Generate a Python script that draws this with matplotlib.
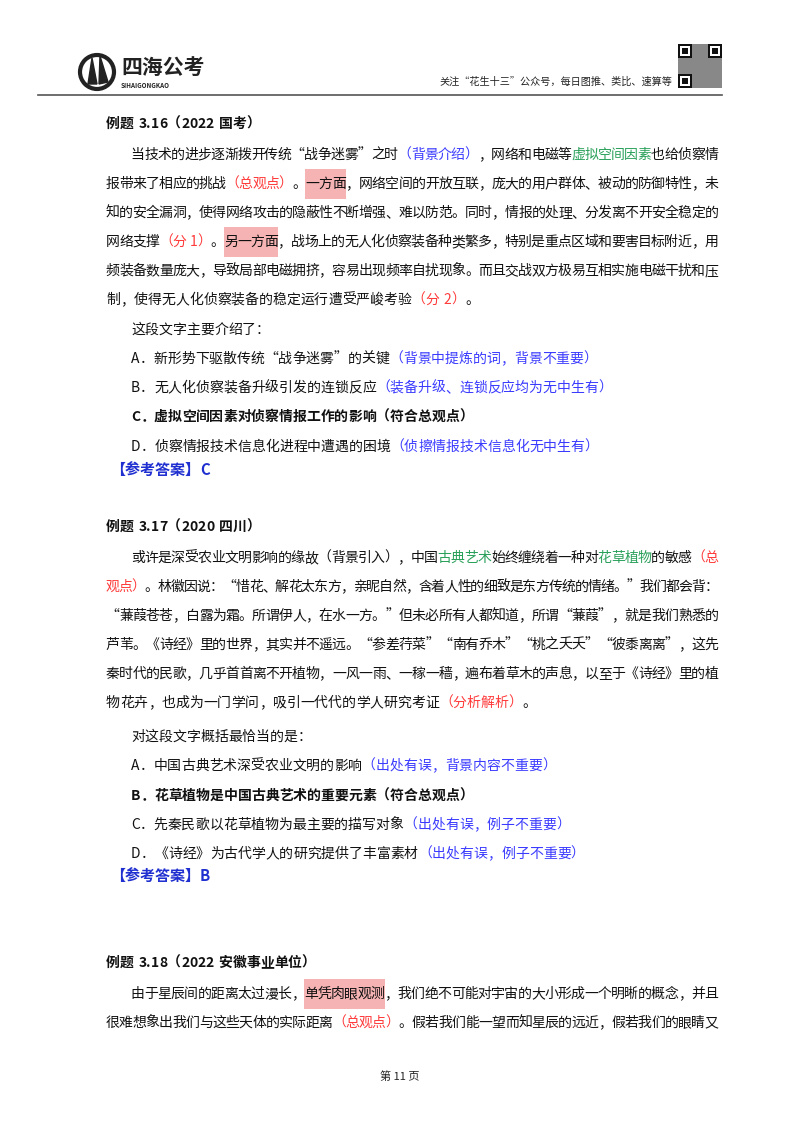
import matplotlib
matplotlib.use("Agg")
import matplotlib.pyplot as plt
from matplotlib.patches import Rectangle

plt.rcParams['font.family'] = ['Noto Sans CJK SC', 'DejaVu Sans']
W, H = 800, 1132
fig = plt.figure(figsize=(8, 11.32), dpi=100)
fig.patch.set_facecolor('white')
ax = fig.add_axes([0, 0, 1, 1])
ax.set_xlim(0, W); ax.set_ylim(H, 0); ax.axis('off')
r = fig.canvas.get_renderer()

K, B, R, G = '#111111', '#3b3bff', '#ff3b3b', '#2aa05a'
HL = '#f6b3b3'
FS = 10.0
RIGHT = 718

# each line: (x, y, justify, [(text, color, bold, highlight)])
lines = [
 (106, 124, 0, [("例题 3.16（2022 国考）", K, True, False)]),
 (131, 155, 1, [("当技术的进步逐渐拨开传统“战争迷雾”之时", K, 0, 0), ("（背景介绍）", B, 0, 0), ("，网络和电磁等", K, 0, 0), ("虚拟空间因素", G, 0, 0), ("也给侦察情", K, 0, 0)]),
 (106, 184, 1, [("报带来了相应的挑战", K, 0, 0), ("（总观点）", R, 0, 0), ("。", K, 0, 0), ("一方面", K, 0, 1), ("，网络空间的开放互联，庞大的用户群体、被动的防御特性，未", K, 0, 0)]),
 (106, 213, 1, [("知的安全漏洞，使得网络攻击的隐蔽性不断增强、难以防范。同时，情报的处理、分发离不开安全稳定的", K, 0, 0)]),
 (106, 242, 1, [("网络支撑", K, 0, 0), ("（分 1）", R, 0, 0), ("。", K, 0, 0), ("另一方面", K, 0, 1), ("，战场上的无人化侦察装备种类繁多，特别是重点区域和要害目标附近，用", K, 0, 0)]),
 (106, 271, 1, [("频装备数量庞大，导致局部电磁拥挤，容易出现频率自扰现象。而且交战双方极易互相实施电磁干扰和压", K, 0, 0)]),
 (106, 300, 0, [("制，使得无人化侦察装备的稳定运行遭受严峻考验", K, 0, 0), ("（分 2）", R, 0, 0), ("。", K, 0, 0)]),
 (131, 330, 0, [("这段文字主要介绍了：", K, 0, 0)]),
 (131, 359, 0, [("A．新形势下驱散传统“战争迷雾”的关键", K, 0, 0), ("（背景中提炼的词，背景不重要）", B, 0, 0)]),
 (131, 388, 0, [("B．无人化侦察装备升级引发的连锁反应", K, 0, 0), ("（装备升级、连锁反应均为无中生有）", B, 0, 0)]),
 (131, 417, 0, [("C．虚拟空间因素对侦察情报工作的影响（符合总观点）", K, True, 0)]),
 (131, 447, 0, [("D．侦察情报技术信息化进程中遭遇的困境", K, 0, 0), ("（侦擦情报技术信息化无中生有）", B, 0, 0)]),
 (110, 470, 0, [("【参考答案】C", '#1f2fd0', True, 0)]),
 (106, 527, 0, [("例题 3.17（2020 四川）", K, True, False)]),
 (131, 558, 1, [("或许是深受农业文明影响的缘故（背景引入），中国", K, 0, 0), ("古典艺术", G, 0, 0), ("始终缠绕着一种对", K, 0, 0), ("花草植物", G, 0, 0), ("的敏感", K, 0, 0), ("（总", R, 0, 0)]),
 (106, 587, 1, [("观点）", R, 0, 0), ("。林徽因说：“惜花、解花太东方，亲昵自然，含着人性的细致是东方传统的情绪。”我们都会背：", K, 0, 0)]),
 (106, 616, 1, [("“蒹葭苍苍，白露为霜。所谓伊人，在水一方。”但未必所有人都知道，所谓“蒹葭”，就是我们熟悉的", K, 0, 0)]),
 (106, 645, 1, [("芦苇。《诗经》里的世界，其实并不遥远。“参差荇菜”“南有乔木”“桃之夭夭”“彼黍离离”，这先", K, 0, 0)]),
 (106, 674, 1, [("秦时代的民歌，几乎首首离不开植物，一风一雨、一稼一穑，遍布着草木的声息，以至于《诗经》里的植", K, 0, 0)]),
 (106, 703, 0, [("物花卉，也成为一门学问，吸引一代代的学人研究考证", K, 0, 0), ("（分析解析）", R, 0, 0), ("。", K, 0, 0)]),
 (131, 737, 0, [("对这段文字概括最恰当的是：", K, 0, 0)]),
 (131, 766, 0, [("A．中国古典艺术深受农业文明的影响", K, 0, 0), ("（出处有误，背景内容不重要）", B, 0, 0)]),
 (131, 796, 0, [("B．花草植物是中国古典艺术的重要元素（符合总观点）", K, True, 0)]),
 (131, 825, 0, [("C．先秦民歌以花草植物为最主要的描写对象", K, 0, 0), ("（出处有误，例子不重要）", B, 0, 0)]),
 (131, 854, 0, [("D．《诗经》为古代学人的研究提供了丰富素材", K, 0, 0), ("（出处有误，例子不重要）", B, 0, 0)]),
 (110, 876, 0, [("【参考答案】B", '#1f2fd0', True, 0)]),
 (106, 963, 0, [("例题 3.18（2022 安徽事业单位）", K, True, False)]),
 (131, 994, 1, [("由于星辰间的距离太过漫长，", K, 0, 0), ("单凭肉眼观测", K, 0, 1), ("，我们绝不可能对宇宙的大小形成一个明晰的概念，并且", K, 0, 0)]),
 (106, 1023, 1, [("很难想象出我们与这些天体的实际距离", K, 0, 0), ("（总观点）", R, 0, 0), ("。假若我们能一望而知星辰的远近，假若我们的眼睛又", K, 0, 0)]),
]

cache = {}
def cw(ch, fs, bold):
    key = (ch, fs, bool(bold))
    if key not in cache:
        t = ax.text(0, 0, ch if ch != ' ' else 'a', fontsize=fs, fontweight='bold' if bold else 'normal')
        w = t.get_window_extent(r).width
        t.remove()
        cache[key] = w * (0.55 if ch == ' ' else 1)
    return cache[key]

for x0, y, just, segs in lines:
    items = []
    for txt, col, bold, hl in segs:
        fs = 10.8 if (bold and txt.startswith("【")) else FS
        for ch in txt:
            items.append((ch, col, bold, hl, fs, cw(ch, fs, bold)))
    total = sum(i[5] for i in items)
    sc = (RIGHT - x0) / total if just else 1.0
    x = x0
    for ch, col, bold, hl, fs, w in items:
        ww = w * sc
        if ch != ' ':
            ax.text(x + (ww - w) / 2, y, ch, color=col, fontsize=fs,
                    fontweight='bold' if bold else 'normal', va='center', ha='left', zorder=3)
        if hl:
            ax.add_patch(Rectangle((x - 0.5, y - 15), ww + 1, 30, color=HL, zorder=1, lw=0))
        x += ww

# header
ax.plot([38, 722], [95, 95], color='#555555', lw=1.2)
ax.add_patch(matplotlib.patches.Circle((97, 72), 17, fill=False, lw=3, color='#222222'))
ax.add_patch(matplotlib.patches.Polygon([[92, 58], [97, 84], [88, 84]], color='#222222'))
ax.add_patch(matplotlib.patches.Polygon([[100, 56], [108, 82], [99, 84]], color='#222222'))
ax.text(121, 67, "四海公考", fontsize=15, fontweight='bold', color='#222222', va='center')
ax.text(121, 86, "SIHAIGONGKAO", fontsize=4.5, fontweight='bold', color='#222222', va='center')
ax.text(672, 82, "关注“花生十三”公众号，每日图推、类比、速算等", fontsize=7.3, color='#222222', va='center', ha='right')
ax.add_patch(Rectangle((678, 44), 44, 44, color='#888888', lw=0))
for (qx, qy) in [(678, 44), (708, 44), (678, 74)]:
    ax.add_patch(Rectangle((qx, qy), 14, 14, color='#111111', lw=0))
    ax.add_patch(Rectangle((qx + 2, qy + 2), 10, 10, color='white', lw=0))
    ax.add_patch(Rectangle((qx + 4, qy + 4), 6, 6, color='#111111', lw=0))

ax.text(400, 1077, "第 11 页", fontsize=8, color='#222222', ha='center', va='center')

fig.savefig("out.png", dpi=100)
